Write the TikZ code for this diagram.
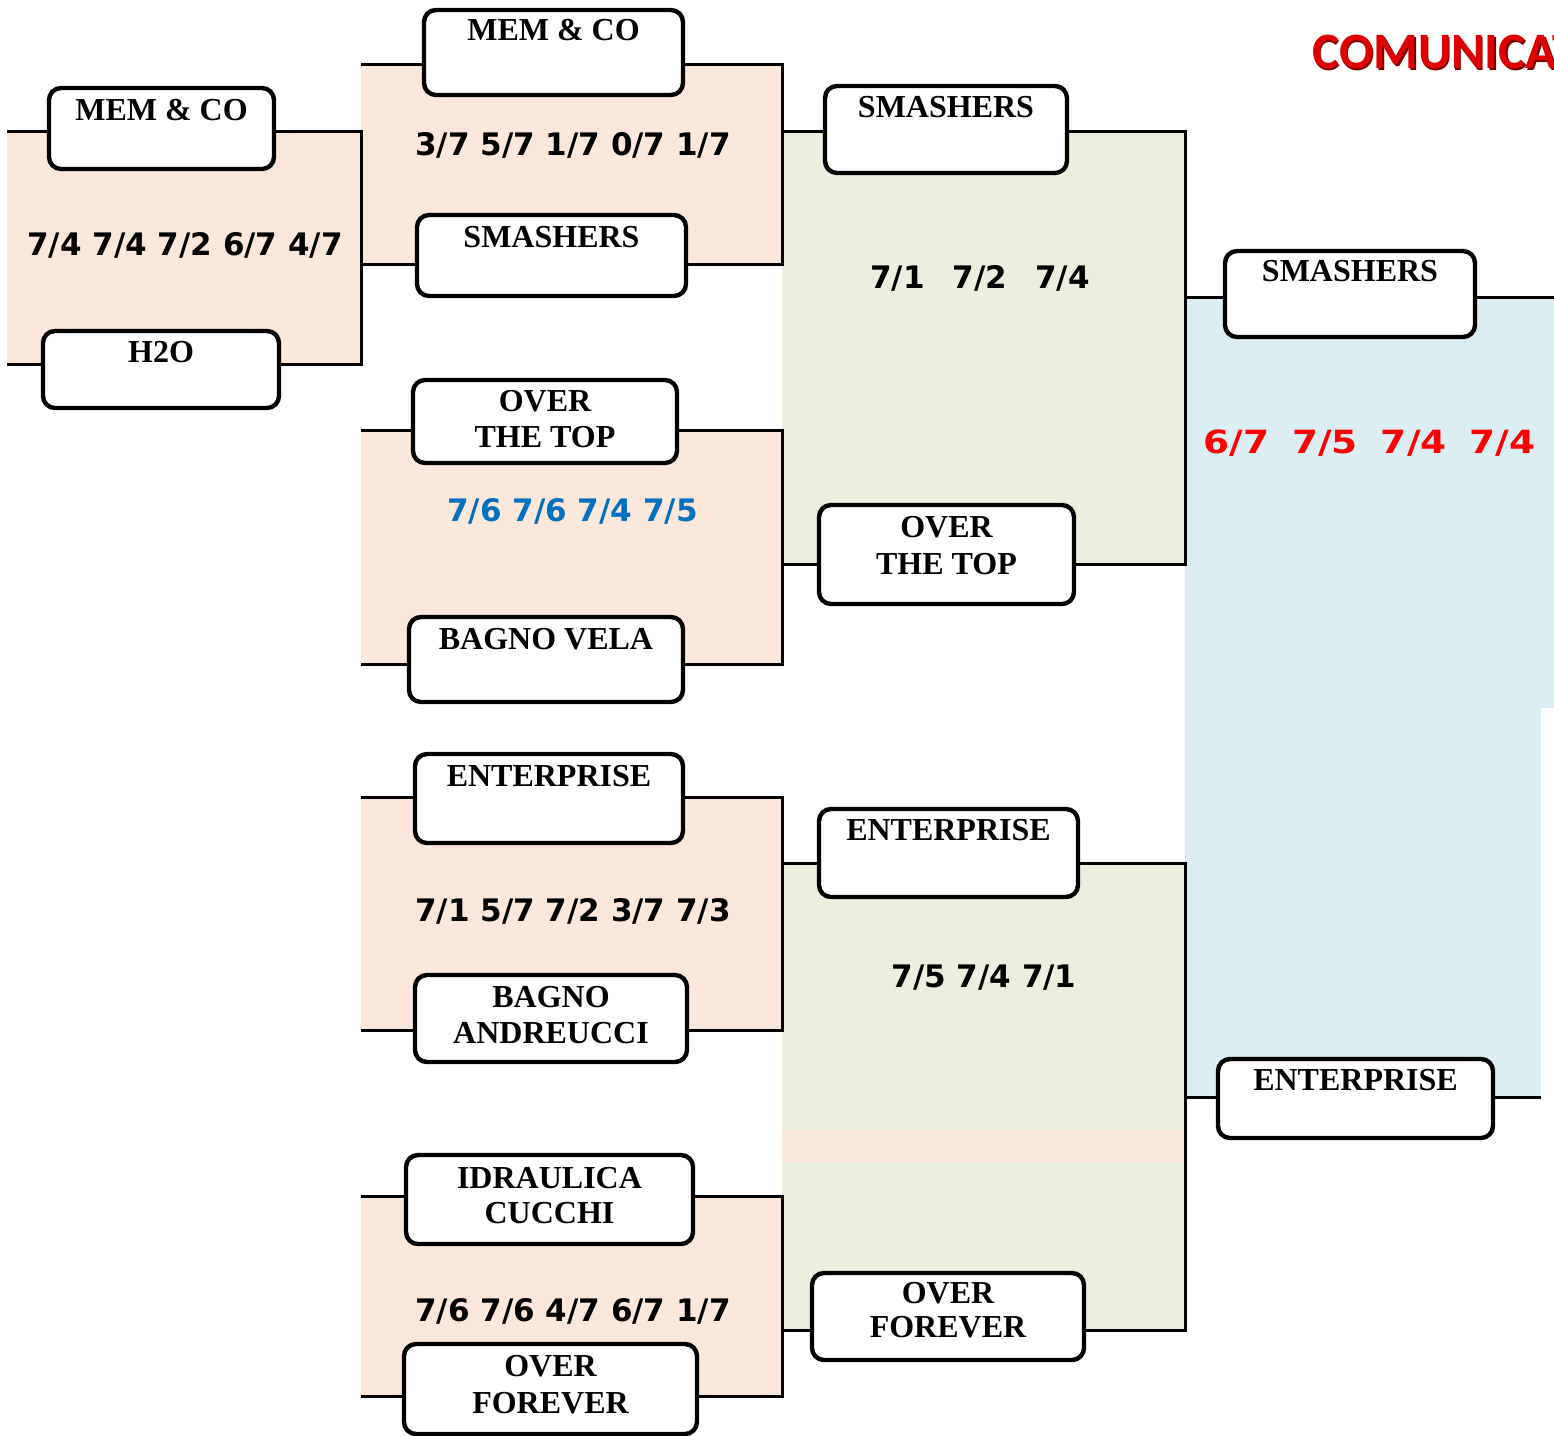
\documentclass[tikz,border=0pt]{standalone}
\usepackage{fontspec}
\setmainfont{Liberation Serif}
\newfontfamily\scorefont{DejaVu Sans}
\newfontfamily\widescorefont{DejaVu Sans}[FakeStretch=1.17]
\newfontfamily\titlefont{Carlito}
\definecolor{peach}{HTML}{FCE8DA}
\definecolor{sage}{HTML}{EBEFDD}
\definecolor{skyb}{HTML}{DBEEF4}
\definecolor{scoreblue}{HTML}{0070C0}
\definecolor{scorered}{HTML}{FF0000}
\definecolor{titlered}{HTML}{E00000}
\definecolor{titleshadow}{HTML}{7A0000}
\newcommand\teamlbl[4]{\parbox[c][#2][t]{#1}{\vspace*{#3}\centering #4\par}}
\begin{document}
\begin{tikzpicture}[x=0.5pt,y=-0.5pt,
  bline/.style={line width=1.5pt},
  team/.style={draw, line width=2.2pt, rounded corners=6pt, fill=white, inner sep=0pt,
    font=\bfseries\fontsize{16}{18}\selectfont},
  score/.style={inner sep=0pt, font=\scorefont\bfseries\fontsize{15.5}{18}\selectfont},
  title/.style={inner sep=0pt, anchor=west, font=\titlefont\bfseries\fontsize{25.5}{28}\selectfont}]
\useasboundingbox (0,0) rectangle (1554,1436);
\clip (0,0) rectangle (1554,1436);
% background fills
\fill[peach] (7,131) rectangle (361,364);
\fill[peach] (361,64) rectangle (782,264);
\fill[peach] (361,430) rectangle (782,664);
\fill[peach] (361,797) rectangle (782,1030);
\fill[peach] (361,1196) rectangle (782,1396);
\fill[sage] (782,131) rectangle (1185,564);
\fill[sage] (782,863) rectangle (1185,1330);
\fill[peach] (782,1130) rectangle (1183,1163);
\fill[skyb] (1185,297) rectangle (1554,708);
\fill[skyb] (1185,708) rectangle (1541,1097);
% bracket lines
\coordinate (l1a) at (7,131);   \coordinate (l1b) at (7,364);
\coordinate (l2a) at (361,64);  \coordinate (l2b) at (361,264);
\coordinate (l3a) at (361,430); \coordinate (l3b) at (361,664);
\coordinate (l4a) at (361,797); \coordinate (l4b) at (361,1030);
\coordinate (l5a) at (361,1196);\coordinate (l5b) at (361,1396);
\coordinate (l6a) at (782,131); \coordinate (l6b) at (782,564);
\coordinate (l7a) at (782,863); \coordinate (l7b) at (782,1330);
\coordinate (l8a) at (1185,297);\coordinate (l8e) at (1554,297);
\coordinate (l9a) at (1185,1097);\coordinate (l9e) at (1541,1097);
\draw[bline] (l1a) -| (361,364) -- (l1b);
\draw[bline] (l2a) -| (782,264) -- (l2b);
\draw[bline] (l3a) -| (782,664) -- (l3b);
\draw[bline] (l4a) -| (782,1030) -- (l4b);
\draw[bline] (l5a) -| (782,1396) -- (l5b);
\draw[bline] (l6a) -| (1185,564) -- (l6b);
\draw[bline] (l7a) -| (1185,1330) -- (l7b);
\draw[bline] (l8a) -- (l8e);
\draw[bline] (l9a) -- (l9e);
% team boxes
\node[team] (mem1) at (161.5,128.5) {\teamlbl{112.5pt}{40.5pt}{5.5pt}{MEM \& CO}};
\node[team] (h2o) at (161,369.5) {\teamlbl{118pt}{38.5pt}{5pt}{H2O}};
\node[team] (mem2) at (553.5,52.5) {\teamlbl{129.5pt}{42.5pt}{4.5pt}{MEM \& CO}};
\node[team] (sm1) at (551.5,255.5) {\teamlbl{134.5pt}{40.5pt}{5.5pt}{SMASHERS}};
\node[team] (ott1) at (545,421.5) {\teamlbl{132pt}{41.5pt}{5pt}{OVER\\THE TOP}};
\node[team] (bv) at (546,659.5) {\teamlbl{137pt}{42.5pt}{5.5pt}{BAGNO VELA}};
\node[team] (ent1) at (549,798.5) {\teamlbl{134pt}{44.5pt}{5.5pt}{ENTERPRISE}};
\node[team] (ba) at (551,1018.5) {\teamlbl{136pt}{43.5pt}{5.5pt}{BAGNO\\ANDREUCCI}};
\node[team] (ic) at (549.5,1199.5) {\teamlbl{143.5pt}{44.5pt}{6pt}{IDRAULICA\\[-0.5pt]CUCCHI}};
\node[team] (of1) at (550.5,1389) {\teamlbl{146.5pt}{45pt}{5.5pt}{OVER\\[0.5pt]FOREVER}};
\node[team] (sm2) at (946,129.5) {\teamlbl{121pt}{43.5pt}{5pt}{SMASHERS}};
\node[team] (ott2) at (946.5,554.5) {\teamlbl{127.5pt}{49.5pt}{5.5pt}{OVER\\[0.5pt]THE TOP}};
\node[team] (ent2) at (948.5,853) {\teamlbl{129.5pt}{44pt}{5pt}{ENTERPRISE}};
\node[team] (of2) at (948,1316.5) {\teamlbl{136pt}{43.5pt}{4.5pt}{OVER\\[-1pt]FOREVER}};
\node[team] (sm3) at (1350,294) {\teamlbl{125pt}{43pt}{4.5pt}{SMASHERS}};
\node[team] (ent3) at (1355.5,1098.5) {\teamlbl{137.5pt}{39.5pt}{5pt}{ENTERPRISE}};
% scores
\node[score] (s1) at (185,245) {7/4 7/4 7/2 6/7 4/7};
\node[score] (s2) at (573,145) {3/7 5/7 1/7 0/7 1/7};
\node[score] (s3) at (980,278) {7/1\hspace{14pt}7/2\hspace{14pt}7/4};
\node[score, text=scoreblue] (s4) at (572.5,511) {7/6 7/6 7/4 7/5};
\node[score] (s5) at (573,911) {7/1 5/7 7/2 3/7 7/3};
\node[score] (s6) at (984,978) {7/5 7/4 7/1};
\node[score] (s7) at (573,1311) {7/6 7/6 4/7 6/7 1/7};
\node[score, text=scorered, font=\widescorefont\bfseries\fontsize{16}{18}\selectfont] (s8) at (1369.5,443) {6/7\hspace{11.5pt}7/5\hspace{11.5pt}7/4\hspace{11.5pt}7/4};
% title
\node[title, text=titleshadow] (titleshade) at (1313.5,53.5) {COMUNICAT};
\node[title, text=titlered] (title) at (1312,52) {COMUNICAT};
\end{tikzpicture}
\end{document}
